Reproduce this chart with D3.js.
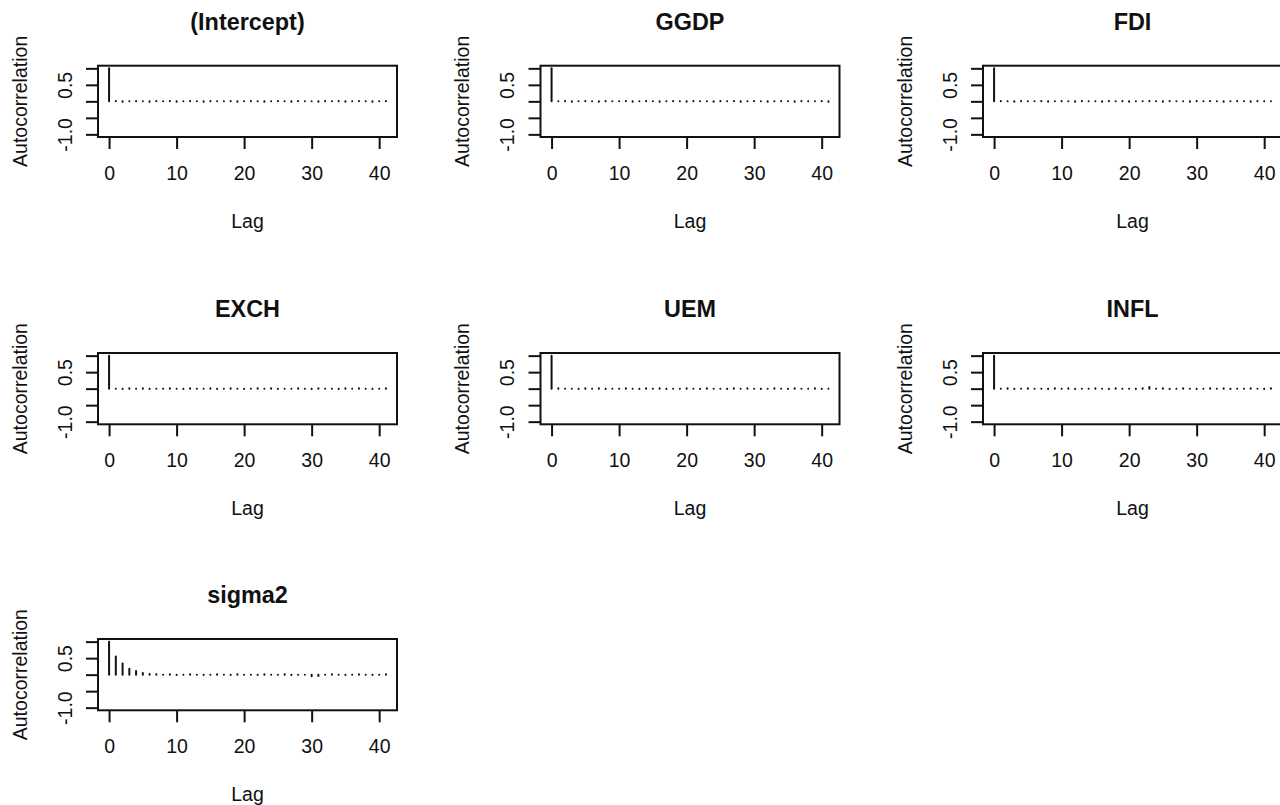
<!DOCTYPE html>
<html>
<head>
<meta charset="utf-8">
<script src="https://cdn.jsdelivr.net/npm/d3@7"></script>
<style>
  html, body { margin: 0; padding: 0; background: #fff; }
  svg { display: block; font-family: "Liberation Sans", Arial, sans-serif; }
</style>
</head>
<body>
<svg id="chart" width="1280" height="805"></svg>
<script>
// ---- data ----
const panelNames = ["(Intercept)", "GGDP", "FDI", "EXCH", "UEM", "INFL", "sigma2"];
const xTickValues = [0, 10, 20, 30, 40];
const yTickValues = [-1, -0.5, 0, 0.5, 1];
const yTickLabels = ["-1.0", "", "", "0.5", ""];

const acfIntercept = [1, 0.01, -0.01, 0.00, 0.01, 0.00, -0.01, 0.01, 0.00, 0.01, -0.01, 0.00, 0.01, 0.00, -0.01, 0.01, 0.00, 0.00, 0.01, -0.01, 0.00, 0.01, 0.00, -0.01, 0.00, 0.01, 0.00, -0.01, 0.01, 0.00, 0.00, -0.01, 0.01, 0.00, 0.01, -0.01, 0.00, 0.01, 0.00, -0.01, 0.00, 0.01];
const acfGGDP = [1, 0.00, 0.01, -0.01, 0.00, 0.01, 0.00, -0.01, 0.01, 0.00, 0.00, 0.01, -0.01, 0.00, 0.01, 0.00, -0.01, 0.00, 0.01, 0.00, -0.01, 0.01, 0.00, 0.00, -0.01, 0.01, 0.00, 0.01, -0.01, 0.00, 0.01, 0.00, -0.01, 0.00, 0.01, 0.00, -0.01, 0.01, 0.00, 0.00, 0.01, -0.01];
const acfFDI = [1, 0.01, 0.00, -0.01, 0.01, 0.00, 0.00, 0.01, -0.01, 0.00, 0.01, 0.00, -0.01, 0.01, 0.00, 0.00, -0.01, 0.01, 0.00, 0.01, -0.01, 0.00, 0.00, 0.01, 0.00, -0.01, 0.01, 0.00, 0.00, -0.01, 0.01, 0.00, 0.01, 0.00, -0.01, 0.00, 0.01, 0.00, -0.01, 0.01, 0.00, 0.00];
const acfEXCH = [1, 0.00, -0.01, 0.01, 0.00, 0.01, -0.01, 0.00, 0.00, 0.01, 0.00, -0.01, 0.01, 0.00, 0.00, 0.01, -0.01, 0.00, 0.01, 0.00, -0.01, 0.00, 0.01, 0.00, 0.01, -0.01, 0.00, 0.00, 0.01, 0.00, -0.01, 0.01, 0.00, 0.00, -0.01, 0.01, 0.00, 0.01, 0.00, -0.01, 0.00, 0.01];
const acfUEM = [1, 0.01, 0.00, 0.00, -0.01, 0.01, 0.00, 0.01, -0.01, 0.00, 0.00, 0.01, 0.00, -0.01, 0.01, 0.00, 0.01, -0.01, 0.00, 0.00, 0.01, 0.00, -0.01, 0.01, 0.00, 0.00, -0.01, 0.01, 0.00, 0.01, 0.00, -0.01, 0.00, 0.01, 0.00, -0.01, 0.01, 0.00, 0.00, 0.01, -0.01, 0.00];
const acfINFL = [1, 0.00, 0.01, -0.01, 0.00, 0.01, 0.00, 0.00, -0.01, 0.01, 0.00, 0.01, -0.01, 0.00, 0.00, 0.01, 0.00, -0.01, 0.01, 0.00, 0.00, -0.01, 0.01, 0.05, 0.00, 0.01, -0.01, 0.00, 0.01, 0.00, -0.01, 0.00, 0.01, 0.00, 0.01, -0.01, 0.00, 0.00, 0.01, 0.00, -0.01, 0.01];
const acfSigma2 = [1, 0.55, 0.34, 0.18, 0.11, 0.05, 0.02, 0.01, 0.00, 0.01, -0.01, 0.00, 0.01, 0.00, -0.01, 0.00, 0.01, 0.00, -0.01, 0.01, 0.00, 0.00, -0.01, 0.01, 0.00, 0.00, 0.01, -0.01, 0.00, 0.00, -0.05, -0.04, 0.00, 0.01, 0.00, -0.01, 0.00, 0.01, 0.00, -0.01, 0.00, 0.01];

const panelSeries = [acfIntercept, acfGGDP, acfFDI, acfEXCH, acfUEM, acfINFL, acfSigma2];

// ---- layout ----
const colLefts = [98, 540.5, 983];
const rowTops = [65.7, 353, 639];
const boxW = 299, boxH = 71.3;
const axisFont = 19.5, titleFont = 23.4;
const ink = "#111";

const svg = d3.select("#chart");

panelNames.forEach((name, i) => {
  const col = i % 3, row = Math.floor(i / 3);
  const left = colLefts[col], top = rowTops[row];
  const vals = panelSeries[i];
  const lags = vals.map((_, k) => k);
  const maxLag = lags[lags.length - 1];
  const padX = maxLag * 0.04;

  const x = d3.scaleLinear().domain([-padX, maxLag + padX]).range([left, left + boxW]);
  const y = d3.scaleLinear().domain([-1.08, 1.08]).range([top + boxH, top]);

  const g = svg.append("g");

  // bars (type "h")
  g.append("g").selectAll("line").data(vals).join("line")
    .attr("x1", (d, k) => x(lags[k]))
    .attr("x2", (d, k) => x(lags[k]))
    .attr("y1", y(0))
    .attr("y2", d => y(d))
    .attr("stroke", ink)
    .attr("stroke-width", 2)
    .attr("stroke-linecap", "round");

  // box
  g.append("rect")
    .attr("x", left).attr("y", top)
    .attr("width", boxW).attr("height", boxH)
    .attr("fill", "none").attr("stroke", ink).attr("stroke-width", 2);

  // x axis
  const xa = g.append("g")
    .attr("transform", `translate(0,${top + boxH})`)
    .call(d3.axisBottom(x).tickValues(xTickValues).tickSize(12).tickPadding(17).tickFormat(d3.format("d")));
  xa.select(".domain").remove();
  xa.selectAll("line").attr("stroke", ink).attr("stroke-width", 2);
  xa.selectAll("text").attr("font-size", axisFont).attr("fill", ink)
    .attr("font-family", "Liberation Sans, Arial, sans-serif");

  // y axis
  const ya = g.append("g")
    .attr("transform", `translate(${left},0)`)
    .call(d3.axisLeft(y).tickValues(yTickValues).tickSize(12).tickFormat((d, k) => yTickLabels[k]));
  ya.select(".domain").remove();
  ya.selectAll("line").attr("stroke", ink).attr("stroke-width", 2);
  ya.selectAll("text")
    .attr("x", null).attr("dy", null)
    .attr("text-anchor", "middle")
    .attr("transform", "translate(-26.3,0) rotate(-90)")
    .attr("font-size", axisFont).attr("fill", ink)
    .attr("font-family", "Liberation Sans, Arial, sans-serif");

  // title
  g.append("text")
    .attr("x", left + boxW / 2).attr("y", top - 36)
    .attr("text-anchor", "middle")
    .attr("font-weight", "bold").attr("font-size", titleFont).attr("fill", ink)
    .text(name);

  // x label
  g.append("text")
    .attr("x", left + boxW / 2).attr("y", top + boxH + 91)
    .attr("text-anchor", "middle")
    .attr("font-size", axisFont).attr("fill", ink)
    .text("Lag");

  // y label
  g.append("text")
    .attr("transform", `translate(${left - 71.5},${top + boxH / 2}) rotate(-90)`)
    .attr("text-anchor", "middle")
    .attr("font-size", axisFont).attr("fill", ink)
    .text("Autocorrelation");
});
</script>
</body>
</html>
